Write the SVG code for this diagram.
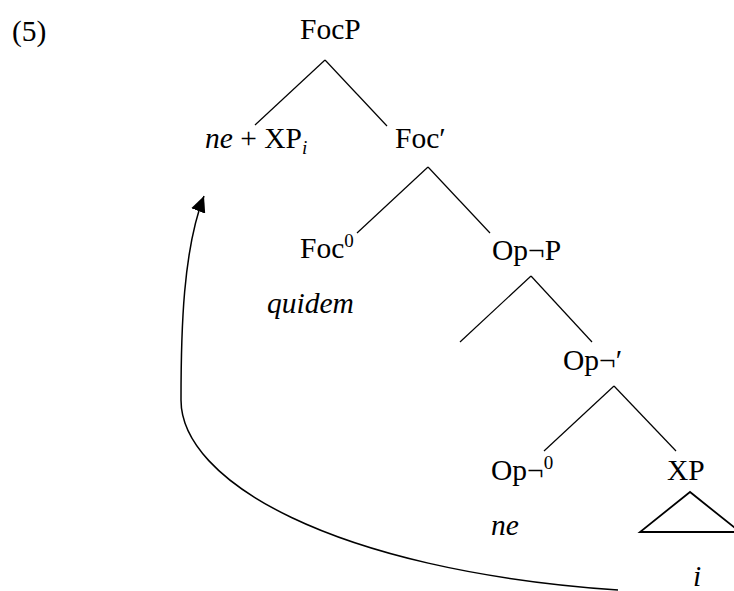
<svg xmlns="http://www.w3.org/2000/svg" width="734" height="591" viewBox="0 0 734 591">
<style>
  text { font-family: "Liberation Serif", "Times New Roman", serif; font-size: 29.5px; fill: #000; }
  .it { font-style: italic; }
  .sup { font-size: 19px; }
  .sub { font-size: 19px; font-style: italic; }
  .edge { stroke: #000; stroke-width: 1.2; fill: none; }
  .tri { stroke: #000; stroke-width: 1.8; fill: none; }
  .move { stroke: #000; stroke-width: 1.5; fill: none; }
</style>
<defs>
  <marker id="ah" markerUnits="userSpaceOnUse" markerWidth="17" markerHeight="15" refX="16" refY="7.5" orient="auto">
    <path d="M0,0 L16,7.5 L0,15 z" fill="#000"/>
  </marker>
</defs>
<rect width="734" height="591" fill="#fff"/>
<text id="label5" x="12" y="41">(5)</text>
<g id="connectors">
  <line class="edge" x1="325" y1="60" x2="255" y2="125"/>
  <line class="edge" x1="325" y1="60" x2="387" y2="126"/>
  <line class="edge" x1="428" y1="167" x2="357" y2="233"/>
  <line class="edge" x1="428" y1="167" x2="490" y2="233"/>
  <line class="edge" x1="531" y1="276" x2="460" y2="342"/>
  <line class="edge" x1="531" y1="276" x2="592" y2="342"/>
  <line class="edge" x1="614" y1="386" x2="544" y2="451"/>
  <line class="edge" x1="614" y1="386" x2="676" y2="451"/>
  <path class="move" d="M618,590 C330,570 181,480 181,400 C181,330 183,250 204,196" marker-end="url(#ah)"/>
</g>
<g id="FocP"><text x="300" y="39">FocP</text></g>
<g id="neXP"><text x="205" y="148"><tspan class="it">ne</tspan> + XP<tspan class="sub" dy="6">i</tspan></text></g>
<g id="FocBar"><text x="395" y="148">Foc′</text></g>
<g id="Foc0"><text x="300" y="258">Foc<tspan class="sup" dy="-11">0</tspan></text><text class="it" x="267" y="313">quidem</text></g>
<g id="OpP"><text x="492" y="260">Op¬P</text></g>
<g id="OpBar"><text x="563" y="370">Op¬′</text></g>
<g id="Op0"><text x="491" y="480">Op¬<tspan class="sup" dy="-11">0</tspan></text><text class="it" x="491" y="535">ne</text></g>
<g id="XP"><text x="667" y="480">XP</text><polygon class="tri" points="690,492 640,532 740,532"/><text class="it" x="693" y="586">i</text></g>
</svg>
